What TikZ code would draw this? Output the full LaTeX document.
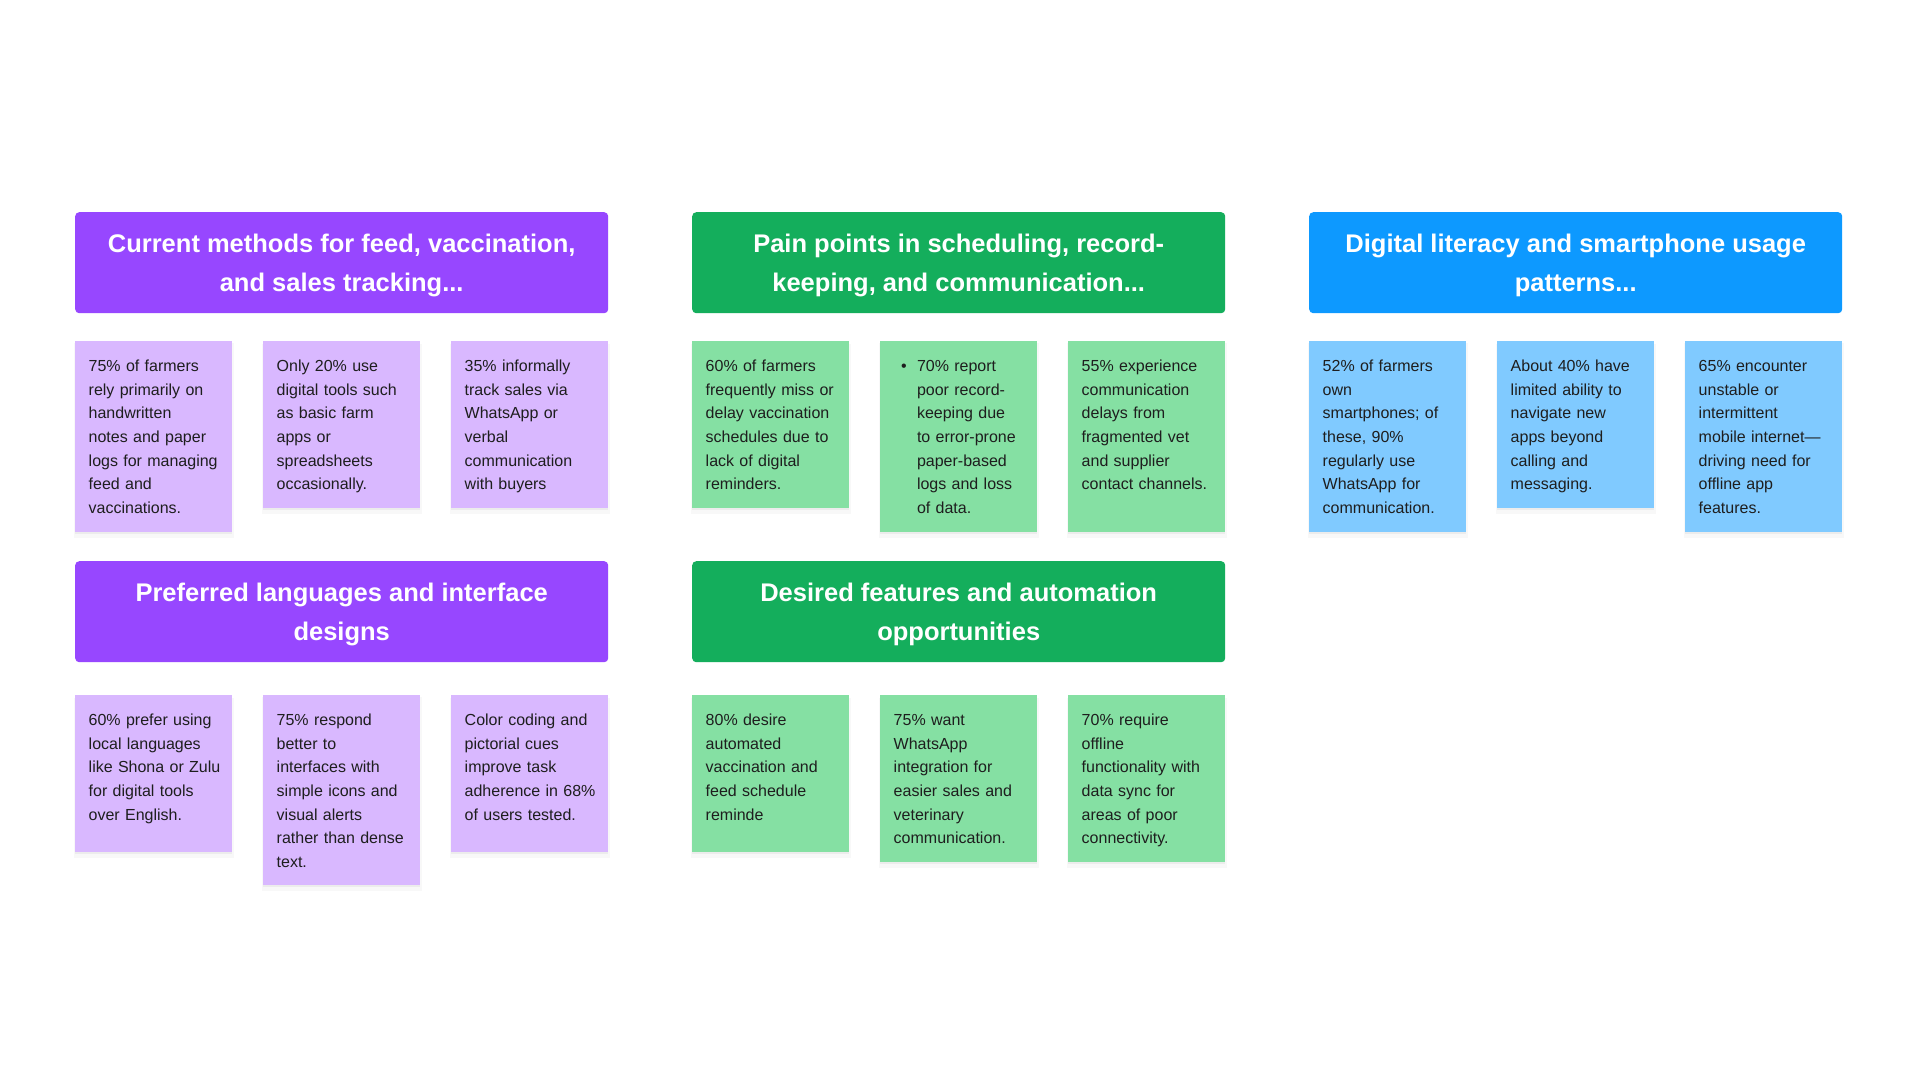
\documentclass[tikz,border=0pt]{standalone}
\usepackage{fontspec}
\setmainfont{Liberation Sans}
\usetikzlibrary{shadows}
\definecolor{purH}{RGB}{151,71,255}
\definecolor{purL}{RGB}{217,184,255}
\definecolor{grnH}{RGB}{20,174,92}
\definecolor{grnL}{RGB}{133,224,163}
\definecolor{bluH}{RGB}{13,153,255}
\definecolor{bluL}{RGB}{128,202,255}
\definecolor{ink}{RGB}{30,30,30}
\tikzset{
  hdr/.style={anchor=north west, rounded corners=4pt, minimum width=533pt, minimum height=101pt,
    inner sep=0pt, text=white, align=center, font=\fontsize{25.5}{39}\selectfont\bfseries},
  hdrtxt/.style={inner sep=0pt, text=white, align=center, font=\fontsize{25.5}{39}\selectfont\bfseries},
  notebox/.style={anchor=north west, minimum width=157pt, inner sep=0pt,
    drop shadow={shadow xshift=0pt, shadow yshift=-2pt, opacity=0.10},
    drop shadow={shadow xshift=0pt, shadow yshift=-4pt, shadow scale=1.02, opacity=0.05}},
  txt/.style={anchor=base west, inner sep=0pt, text width=142pt, align=left, text=ink,
    font=\fontsize{16}{23.6}\selectfont},
  bul/.style={anchor=base west, inner sep=0pt, text=ink, font=\fontsize{16}{23.6}\selectfont},
}
\begin{document}
\begin{tikzpicture}[x=1pt,y=-1pt]
\useasboundingbox[fill=white] (0,0) rectangle (1920,1080);

% ---------- Row 1, group 1 (purple) ----------
\node[hdr, fill=purH] (h1) at (75,212) {};
\node[hdrtxt] (h1t) at ([yshift=-2.5pt]h1.center) {Current methods for feed, vaccination,\\and sales tracking...};
\node[notebox, fill=purL, minimum height=191pt] (n1a) at (75,341) {};
\node[notebox, fill=purL, minimum height=167pt] (n1b) at (263,341) {};
\node[notebox, fill=purL, minimum height=167pt] (n1c) at (451,341) {};
\node[txt] (t1a) at ([shift={(13.5,30.7)}]n1a.north west) {75\% of farmers\\rely primarily on\\handwritten\\notes and paper\\logs for managing\\feed and\\vaccinations.};
\node[txt] (t1b) at ([shift={(13.5,30.7)}]n1b.north west) {Only 20\% use\\digital tools such\\as basic farm\\apps or\\spreadsheets\\occasionally.};
\node[txt] (t1c) at ([shift={(13.5,30.7)}]n1c.north west) {35\% informally\\track sales via\\WhatsApp or\\verbal\\communication\\with buyers};

% ---------- Row 1, group 2 (green) ----------
\node[hdr, fill=grnH] (h2) at (692,212) {};
\node[hdrtxt] (h2t) at ([yshift=-2.5pt]h2.center) {Pain points in scheduling, record-\\keeping, and communication...};
\node[notebox, fill=grnL, minimum height=167pt] (n2a) at (692,341) {};
\node[notebox, fill=grnL, minimum height=191pt] (n2b) at (880,341) {};
\node[notebox, fill=grnL, minimum height=191pt] (n2c) at (1068,341) {};
\node[txt] (t2a) at ([shift={(13.5,30.7)}]n2a.north west) {60\% of farmers\\frequently miss or\\delay vaccination\\schedules due to\\lack of digital\\reminders.};
\node[bul] (b2b) at ([shift={(21,30.7)}]n2b.north west) {\textbullet};
\node[txt, text width=118pt] (t2b) at ([shift={(36.8,30.7)}]n2b.north west) {70\% report\\poor record-\\keeping due\\to error-prone\\paper-based\\logs and loss\\of data.};
\node[txt] (t2c) at ([shift={(13.5,30.7)}]n2c.north west) {55\% experience\\communication\\delays from\\fragmented vet\\and supplier\\contact channels.};

% ---------- Row 1, group 3 (blue) ----------
\node[hdr, fill=bluH] (h3) at (1309,212) {};
\node[hdrtxt] (h3t) at ([yshift=-2.5pt]h3.center) {Digital literacy and smartphone usage\\patterns...};
\node[notebox, fill=bluL, minimum height=191pt] (n3a) at (1309,341) {};
\node[notebox, fill=bluL, minimum height=167pt] (n3b) at (1497,341) {};
\node[notebox, fill=bluL, minimum height=191pt] (n3c) at (1685,341) {};
\node[txt] (t3a) at ([shift={(13.5,30.7)}]n3a.north west) {52\% of farmers\\own\\smartphones; of\\these, 90\%\\regularly use\\WhatsApp for\\communication.};
\node[txt] (t3b) at ([shift={(13.5,30.7)}]n3b.north west) {About 40\% have\\limited ability to\\navigate new\\apps beyond\\calling and\\messaging.};
\node[txt] (t3c) at ([shift={(13.5,30.7)}]n3c.north west) {65\% encounter\\unstable or\\intermittent\\mobile internet—\\driving need for\\offline app\\features.};

% ---------- Row 2, group 1 (purple) ----------
\node[hdr, fill=purH] (h4) at (75,561) {};
\node[hdrtxt] (h4t) at ([yshift=-2.5pt]h4.center) {Preferred languages and interface\\designs};
\node[notebox, fill=purL, minimum height=157pt] (n4a) at (75,695) {};
\node[notebox, fill=purL, minimum height=190pt] (n4b) at (263,695) {};
\node[notebox, fill=purL, minimum height=157pt] (n4c) at (451,695) {};
\node[txt] (t4a) at ([shift={(13.5,30.7)}]n4a.north west) {60\% prefer using\\local languages\\like Shona or Zulu\\for digital tools\\over English.};
\node[txt] (t4b) at ([shift={(13.5,30.7)}]n4b.north west) {75\% respond\\better to\\interfaces with\\simple icons and\\visual alerts\\rather than dense\\text.};
\node[txt] (t4c) at ([shift={(13.5,30.7)}]n4c.north west) {Color coding and\\pictorial cues\\improve task\\adherence in 68\%\\of users tested.};

% ---------- Row 2, group 2 (green) ----------
\node[hdr, fill=grnH] (h5) at (692,561) {};
\node[hdrtxt] (h5t) at ([yshift=-2.5pt]h5.center) {Desired features and automation\\opportunities};
\node[notebox, fill=grnL, minimum height=157pt] (n5a) at (692,695) {};
\node[notebox, fill=grnL, minimum height=167pt] (n5b) at (880,695) {};
\node[notebox, fill=grnL, minimum height=167pt] (n5c) at (1068,695) {};
\node[txt] (t5a) at ([shift={(13.5,30.7)}]n5a.north west) {80\% desire\\automated\\vaccination and\\feed schedule\\reminde};
\node[txt] (t5b) at ([shift={(13.5,30.7)}]n5b.north west) {75\% want\\WhatsApp\\integration for\\easier sales and\\veterinary\\communication.};
\node[txt] (t5c) at ([shift={(13.5,30.7)}]n5c.north west) {70\% require\\offline\\functionality with\\data sync for\\areas of poor\\connectivity.};
\end{tikzpicture}
\end{document}
